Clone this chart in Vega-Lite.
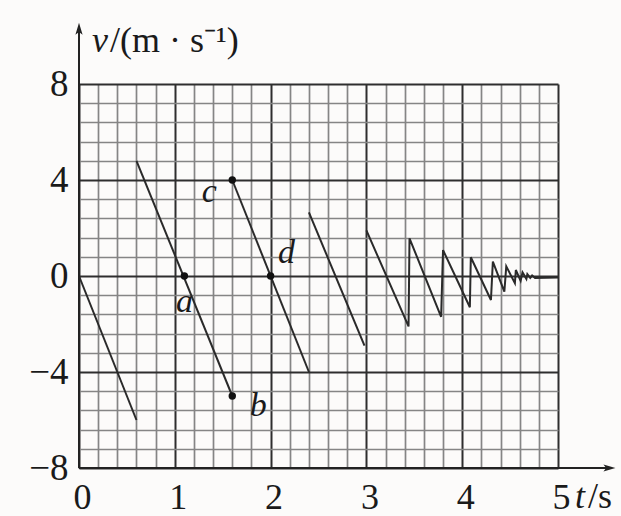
{
  "$schema": "https://vega.github.io/schema/vega-lite/v6.json",
  "width": 479,
  "height": 384,
  "autosize": {"type": "none"},
  "padding": {"left": 79, "top": 84, "right": 63, "bottom": 48},
  "background": "#fcfbfa",
  "view": {"stroke": null},
  "config": {"font": "Liberation Serif"},
  "datasets": {
    "curve": [
      {"seg": 1, "t": 0, "v": 0}, {"seg": 1, "t": 0.6, "v": -6},
      {"seg": 2, "t": 0.6, "v": 4.8}, {"seg": 2, "t": 1.6, "v": -5},
      {"seg": 3, "t": 1.6, "v": 4}, {"seg": 3, "t": 2.4, "v": -4},
      {"seg": 4, "t": 2.4, "v": 2.65}, {"seg": 4, "t": 2.98, "v": -2.9},
      {"seg": 5, "t": 3.0, "v": 1.9}, {"seg": 5, "t": 3.44, "v": -2.1},
      {"seg": 5, "t": 3.45, "v": 1.57}, {"seg": 5, "t": 3.78, "v": -1.7},
      {"seg": 5, "t": 3.8, "v": 1.08}, {"seg": 5, "t": 4.08, "v": -1.3},
      {"seg": 5, "t": 4.09, "v": 0.78}, {"seg": 5, "t": 4.3, "v": -1.0},
      {"seg": 5, "t": 4.32, "v": 0.6}, {"seg": 5, "t": 4.44, "v": -0.65},
      {"seg": 5, "t": 4.46, "v": 0.4}, {"seg": 5, "t": 4.55, "v": -0.3},
      {"seg": 5, "t": 4.56, "v": 0.25}, {"seg": 5, "t": 4.61, "v": -0.2},
      {"seg": 5, "t": 4.63, "v": 0.15}, {"seg": 5, "t": 4.67, "v": -0.12},
      {"seg": 5, "t": 4.68, "v": 0.08}, {"seg": 5, "t": 4.71, "v": -0.08},
      {"seg": 5, "t": 4.73, "v": 0.02}, {"seg": 5, "t": 4.76, "v": -0.08},
      {"seg": 5, "t": 5.0, "v": -0.06}
    ],
    "pts": [
      {"name": "a", "t": 1.1, "v": 0},
      {"name": "b", "t": 1.6, "v": -5},
      {"name": "c", "t": 1.6, "v": 4},
      {"name": "d", "t": 2.0, "v": 0}
    ],
    "one": [{}]
  },
  "layer": [
    {
      "data": {"name": "curve"},
      "mark": {"type": "line", "color": "#2a2a2a", "strokeWidth": 2},
      "encoding": {
        "x": {"field": "t", "type": "quantitative", "scale": {"domain": [0, 5], "nice": false},
          "axis": {"orient": "top", "values": [0.2,0.4,0.6,0.8,1.2,1.4,1.6,1.8,2.2,2.4,2.6,2.8,3.2,3.4,3.6,3.8,4.2,4.4,4.6,4.8],
            "grid": true, "labels": false, "ticks": false, "tickSize": 0, "domain": false, "title": null,
            "gridColor": "#858585", "gridWidth": 1.7, "gridOpacity": 1}},
        "y": {"field": "v", "type": "quantitative", "scale": {"domain": [-8, 8], "nice": false},
          "axis": {"orient": "right", "values": [-7.2,-6.4,-5.6,-4.8,-3.2,-2.4,-1.6,-0.8,0.8,1.6,2.4,3.2,4.8,5.6,6.4,7.2],
            "grid": true, "labels": false, "ticks": false, "tickSize": 0, "domain": false, "title": null,
            "gridColor": "#858585", "gridWidth": 1.7, "gridOpacity": 1}},
        "detail": {"field": "seg", "type": "nominal"}
      }
    },
    {
      "data": {"name": "pts"},
      "mark": {"type": "point", "filled": true, "color": "#111", "size": 55, "opacity": 1},
      "encoding": {
        "x": {"field": "t", "type": "quantitative", "scale": {"domain": [0, 5], "nice": false},
          "axis": {"orient": "bottom", "values": [0,1,2,3,4,5], "grid": true, "gridColor": "#2e2e2e", "gridWidth": 2, "gridOpacity": 1,
            "domain": false, "ticks": false, "tickSize": 0, "title": null,
            "labelFont": "Liberation Serif", "labelFontSize": 36, "labelColor": "#1a1a1a",
            "labelBaseline": "alphabetic", "labelPadding": 40, "labelFlush": false, "labelOffset": 3,
            "labelOverlap": false, "labelBound": false}},
        "y": {"field": "v", "type": "quantitative", "scale": {"domain": [-8, 8], "nice": false},
          "axis": {"orient": "left", "values": [-8,-4,0,4,8], "grid": true, "gridColor": "#2e2e2e", "gridWidth": 2, "gridOpacity": 1,
            "domain": false, "ticks": false, "tickSize": 0, "title": null,
            "labelFont": "Liberation Serif", "labelFontSize": 37, "labelColor": "#1a1a1a",
            "labelBaseline": "middle", "labelPadding": 11, "labelOverlap": false, "labelBound": false}}
      }
    },
    {
      "data": {"name": "one"},
      "mark": {"type": "rule", "color": "#222", "strokeWidth": 2},
      "encoding": {
        "x": {"datum": 0, "type": "quantitative", "scale": {"domain": [0, 5], "nice": false}, "axis": null},
        "y": {"datum": -8, "type": "quantitative", "scale": {"domain": [-8, 8], "nice": false}, "axis": null},
        "y2": {"datum": 10.4}
      }
    },
    {
      "data": {"name": "one"},
      "mark": {"type": "rule", "color": "#222", "strokeWidth": 2},
      "encoding": {
        "x": {"datum": 0, "type": "quantitative", "scale": {"domain": [0, 5], "nice": false}, "axis": null},
        "x2": {"datum": 5.55},
        "y": {"datum": -8, "type": "quantitative", "scale": {"domain": [-8, 8], "nice": false}, "axis": null}
      }
    },
    {
      "data": {"name": "one"},
      "mark": {"type": "point", "shape": "M0,-1L0.6,1L0,0.55L-0.6,1Z", "filled": true, "color": "#222", "size": 144, "opacity": 1},
      "encoding": {
        "x": {"datum": 0, "type": "quantitative", "scale": {"domain": [0, 5], "nice": false}, "axis": null},
        "y": {"datum": 10.3, "type": "quantitative", "scale": {"domain": [-8, 8], "nice": false}, "axis": null}
      }
    },
    {
      "data": {"name": "one"},
      "mark": {"type": "point", "shape": "M0,-1L0.6,1L0,0.55L-0.6,1Z", "filled": true, "color": "#222", "size": 144, "opacity": 1, "angle": 90},
      "encoding": {
        "x": {"datum": 5.537, "type": "quantitative", "scale": {"domain": [0, 5], "nice": false}, "axis": null},
        "y": {"datum": -8, "type": "quantitative", "scale": {"domain": [-8, 8], "nice": false}, "axis": null}
      }
    },
    {
      "data": {"name": "one"},
      "mark": {"type": "text", "text": "v", "fontStyle": "italic", "fontSize": 36, "align": "left", "baseline": "alphabetic", "dx": 13, "color": "#1a1a1a"},
      "encoding": {
        "x": {"datum": 0, "type": "quantitative", "scale": {"domain": [0, 5], "nice": false}, "axis": null},
        "y": {"datum": 9.33, "type": "quantitative", "scale": {"domain": [-8, 8], "nice": false}, "axis": null}
      }
    },
    {
      "data": {"name": "one"},
      "mark": {"type": "text", "text": "/(m · s⁻¹)", "fontSize": 36, "align": "left", "baseline": "alphabetic", "dx": 31, "color": "#1a1a1a"},
      "encoding": {
        "x": {"datum": 0, "type": "quantitative", "scale": {"domain": [0, 5], "nice": false}, "axis": null},
        "y": {"datum": 9.33, "type": "quantitative", "scale": {"domain": [-8, 8], "nice": false}, "axis": null}
      }
    },
    {
      "data": {"name": "one"},
      "mark": {"type": "text", "text": "t", "fontStyle": "italic", "fontSize": 36, "align": "left", "baseline": "alphabetic", "dx": 17, "dy": 40, "color": "#1a1a1a"},
      "encoding": {
        "x": {"datum": 5, "type": "quantitative", "scale": {"domain": [0, 5], "nice": false}, "axis": null},
        "y": {"datum": -8, "type": "quantitative", "scale": {"domain": [-8, 8], "nice": false}, "axis": null}
      }
    },
    {
      "data": {"name": "one"},
      "mark": {"type": "text", "text": "/s", "fontSize": 36, "align": "left", "baseline": "alphabetic", "dx": 30, "dy": 40, "color": "#1a1a1a"},
      "encoding": {
        "x": {"datum": 5, "type": "quantitative", "scale": {"domain": [0, 5], "nice": false}, "axis": null},
        "y": {"datum": -8, "type": "quantitative", "scale": {"domain": [-8, 8], "nice": false}, "axis": null}
      }
    },
    {
      "data": {"name": "pts"},
      "transform": [{"filter": "datum.name === 'a'"}],
      "mark": {"type": "text", "fontStyle": "italic", "fontSize": 34, "align": "center", "baseline": "alphabetic", "dx": 0, "dy": 36, "color": "#1a1a1a"},
      "encoding": {
        "x": {"field": "t", "type": "quantitative", "scale": {"domain": [0, 5], "nice": false}, "axis": null},
        "y": {"field": "v", "type": "quantitative", "scale": {"domain": [-8, 8], "nice": false}, "axis": null},
        "text": {"field": "name"}
      }
    },
    {
      "data": {"name": "pts"},
      "transform": [{"filter": "datum.name === 'b'"}],
      "mark": {"type": "text", "fontStyle": "italic", "fontSize": 34, "align": "center", "baseline": "alphabetic", "dx": 26, "dy": 20, "color": "#1a1a1a"},
      "encoding": {
        "x": {"field": "t", "type": "quantitative", "scale": {"domain": [0, 5], "nice": false}, "axis": null},
        "y": {"field": "v", "type": "quantitative", "scale": {"domain": [-8, 8], "nice": false}, "axis": null},
        "text": {"field": "name"}
      }
    },
    {
      "data": {"name": "pts"},
      "transform": [{"filter": "datum.name === 'c'"}],
      "mark": {"type": "text", "fontStyle": "italic", "fontSize": 34, "align": "center", "baseline": "alphabetic", "dx": -23, "dy": 22, "color": "#1a1a1a"},
      "encoding": {
        "x": {"field": "t", "type": "quantitative", "scale": {"domain": [0, 5], "nice": false}, "axis": null},
        "y": {"field": "v", "type": "quantitative", "scale": {"domain": [-8, 8], "nice": false}, "axis": null},
        "text": {"field": "name"}
      }
    },
    {
      "data": {"name": "pts"},
      "transform": [{"filter": "datum.name === 'd'"}],
      "mark": {"type": "text", "fontStyle": "italic", "fontSize": 34, "align": "center", "baseline": "alphabetic", "dx": 16, "dy": -13, "color": "#1a1a1a"},
      "encoding": {
        "x": {"field": "t", "type": "quantitative", "scale": {"domain": [0, 5], "nice": false}, "axis": null},
        "y": {"field": "v", "type": "quantitative", "scale": {"domain": [-8, 8], "nice": false}, "axis": null},
        "text": {"field": "name"}
      }
    }
  ],
  "resolve": {"axis": {"x": "independent", "y": "independent"}}
}
